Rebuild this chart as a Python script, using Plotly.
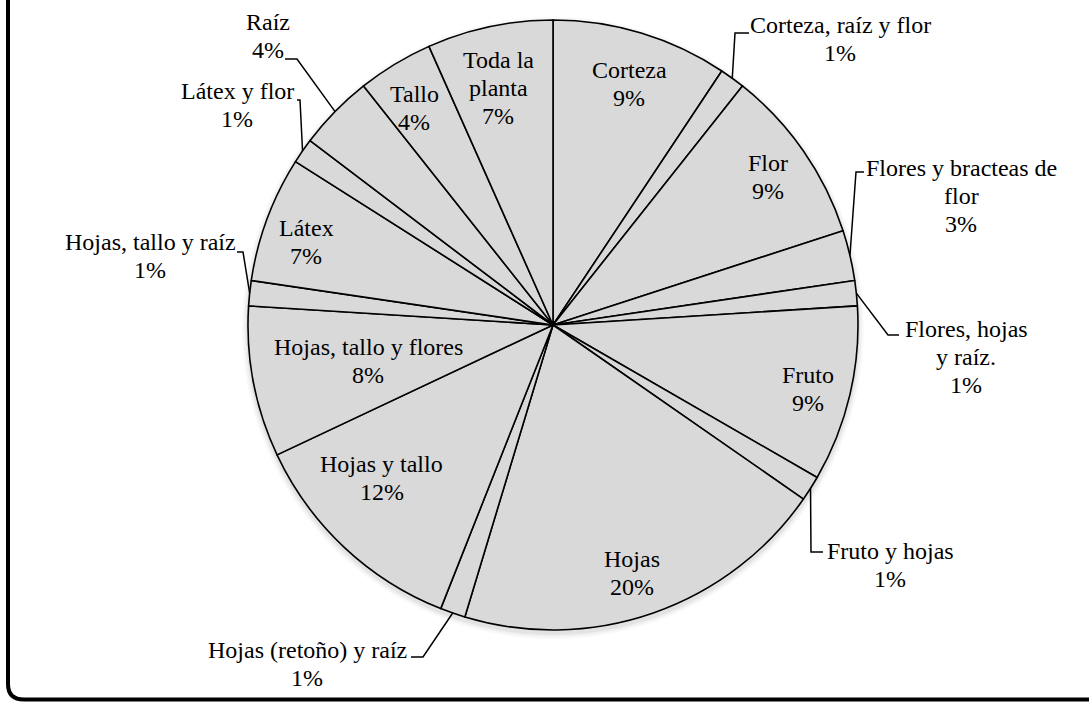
import math
import plotly.graph_objects as go

# ---------------- data ----------------
categories = ["Corteza", "Corteza, raíz y flor", "Flor", "Flores y bracteas de flor",
              "Flores, hojas y raíz.", "Fruto", "Fruto y hojas", "Hojas",
              "Hojas (retoño) y raíz", "Hojas y tallo", "Hojas, tallo y flores",
              "Hojas, tallo y raíz", "Látex", "Látex y flor", "Raíz", "Tallo",
              "Toda la planta"]
counts = [7, 1, 7, 2, 1, 7, 1, 15, 1, 9, 6, 1, 5, 1, 3, 3, 5]
# how the category names wrap in the data labels
label_wrap = [["Corteza"], ["Corteza, raíz y flor"], ["Flor"], ["Flores y bracteas de", "flor"],
              ["Flores, hojas", "y raíz."], ["Fruto"], ["Fruto y hojas"], ["Hojas"],
              ["Hojas (retoño) y raíz"], ["Hojas y tallo"], ["Hojas, tallo y flores"],
              ["Hojas, tallo y raíz"], ["Látex"], ["Látex y flor"], ["Raíz"], ["Tallo"],
              ["Toda la", "planta"]]

# ---------------- layout helpers (pixels) ----------------
W, H = 1089, 702
CX, CY, R = 553, 325, 305
LINE_H = 28
FONT = dict(family="Liberation Serif, Times New Roman, serif", size=24, color="black")

# label block centres
label_center = [(629, 84), (840, 39), (768, 177), (961, 196), (966, 357), (808, 389),
                (890, 565), (632, 573), (307, 664), (382, 478), (368, 361), (150, 256),
                (306, 242), (237, 105), (268, 36), (414, 108), (498, 88)]
# leader lines for outside labels: (elbow point, end point); None = inside label
leaders = [None, ((735, 33), (749, 33)), None, ((856, 172), (864, 172)),
           ((888, 335), (899, 335)), None, ((811, 552), (823, 552)), None,
           ((423, 657), (411, 657)), None, None, ((243, 252), (237, 252)),
           None, ((300, 100), (297, 100)), ((297, 59), (285, 59)), None, None]


def px(x):
    return x / W


def py(y):
    return 1 - y / H


total = sum(counts)
pct_text = [f"{round(100 * c / total)}%" for c in counts]

fig = go.Figure()
fig.add_trace(go.Pie(
    labels=categories, values=counts, sort=False, direction="clockwise", rotation=0,
    textinfo="none", showlegend=False, hoverinfo="label+percent",
    marker=dict(colors=["#d9d9d9"] * len(counts), line=dict(color="black", width=1.6)),
    domain=dict(x=[px(CX - R), px(CX + R)], y=[py(CY + R), py(CY - R)]),
))

annotations = []
shapes = []

# soft shadow under the pie
for dr, a in [(6, 0.025), (4, 0.035), (2, 0.05)]:
    shapes.append(dict(type="circle", xref="paper", yref="paper", layer="below",
                       x0=px(CX - R - dr), x1=px(CX + R + dr),
                       y0=py(CY + 3 + R + dr), y1=py(CY + 3 - R - dr),
                       line=dict(width=0), fillcolor=f"rgba(0,0,0,{a})"))

cum = 0
for i, c in enumerate(counts):
    mid = (cum + c / 2) / total * 2 * math.pi
    cum += c
    lines = label_wrap[i] + [pct_text[i]]
    cx, cy = label_center[i]
    n = len(lines)
    for k, t in enumerate(lines):
        annotations.append(dict(x=px(cx), y=py(cy + (k - (n - 1) / 2) * LINE_H),
                                xref="paper", yref="paper", text=t, showarrow=False,
                                xanchor="center", yanchor="middle", font=FONT))
    if leaders[i] is not None:
        sx = CX + R * math.sin(mid)
        sy = CY - R * math.cos(mid)
        (ex, ey), (hx, hy) = leaders[i]
        shapes.append(dict(type="path", xref="paper", yref="paper",
                           path=f"M {px(sx)},{py(sy)} L {px(ex)},{py(ey)} L {px(hx)},{py(hy)}",
                           line=dict(color="black", width=1.5)))

# outer chart frame (partly visible: left and bottom edges)
shapes.append(dict(type="path", xref="paper", yref="paper",
                   path=(f"M {px(8)},{py(-30)} L {px(8)},{py(684)} "
                         f"Q {px(8)},{py(699.5)} {px(24)},{py(699.5)} L {px(1120)},{py(699.5)}"),
                   line=dict(color="black", width=4)))

fig.update_layout(width=W, height=H, margin=dict(l=0, r=0, t=0, b=0),
                  paper_bgcolor="white", plot_bgcolor="white",
                  annotations=annotations, shapes=shapes)

fig.write_html("out.html", config={"displayModeBar": False},
               post_script="document.body.style.margin='0';")
